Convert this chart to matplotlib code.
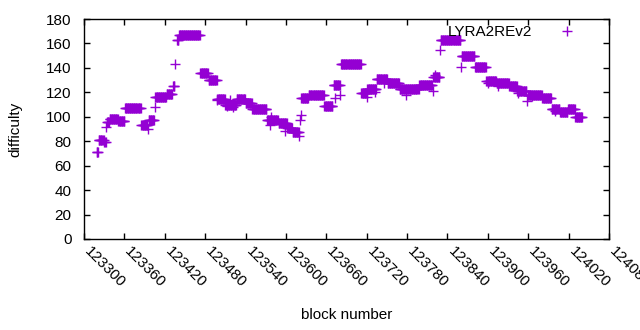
import numpy as np
import matplotlib
matplotlib.use('Agg')
import matplotlib.pyplot as plt
from matplotlib.transforms import ScaledTranslation

plt.rcParams['font.family'] = ['Liberation Sans', 'DejaVu Sans']

# runs of equal difficulty: first block, last block, difficulty
run_start = [123319, 123322, 123330, 123334, 123338, 123351, 123361, 123385, 123396,
             123406, 123423, 123432, 123438, 123441, 123473, 123485, 123498, 123510,
             123527, 123540, 123550, 123572, 123589, 123602, 123610, 123623, 123634,
             123657, 123671, 123682, 123712, 123721, 123735, 123751, 123769, 123798,
             123819, 123830, 123861, 123881, 123898, 123913, 123932, 123944, 123959,
             123981, 123995, 124007, 124019, 124030]
run_end = [123321, 123329, 123332, 123337, 123350, 123360, 123384, 123394, 123404,
           123422, 123431, 123434, 123440, 123472, 123484, 123497, 123509, 123526,
           123539, 123549, 123571, 123588, 123601, 123609, 123619, 123633, 123656,
           123669, 123680, 123711, 123720, 123734, 123750, 123768, 123797, 123817,
           123828, 123859, 123880, 123897, 123912, 123931, 123943, 123957, 123980,
           123994, 124006, 124018, 124029, 124040]
run_value = [71.5, 81, 79, 96, 98.5, 96.5, 107, 93, 97.5,
             116, 118.5, 125, 162.5, 167, 135.5, 130, 114.5, 110,
             114.5, 111, 106, 97.5, 95, 91, 87.5, 115.5, 118,
             109, 126, 143, 119.5, 123, 131, 127.5, 122.5, 126,
             132.5, 163, 150, 140.5, 129.5, 128, 125.5, 121.5, 118,
             115, 106, 103.5, 106, 99.5]

# single outlying blocks
single_block = [123333, 123395, 123405, 123435, 123497, 123512, 123517, 123521, 123576,
                123578, 123598, 123620, 123621, 123622, 123673, 123681, 123720, 123733,
                123746, 123779, 123818, 123821, 123829, 123860, 123900, 123915, 123945,
                123958, 123965, 124000]
single_value = [91.4, 90.3, 108, 143, 113.9, 108.8, 113.7, 108, 93.3,
                99.5, 88.6, 84.5, 97.5, 101.5, 115, 118, 116.5, 120.6,
                127.4, 117.8, 121, 134, 155, 141, 127.4, 125.5, 119.8,
                113, 117, 105]

blocks = np.concatenate([np.arange(s, e + 1) for s, e in zip(run_start, run_end)] + [single_block])
values = np.concatenate([np.full(e - s + 1, v) for s, e, v in zip(run_start, run_end, run_value)] + [single_value])

fig = plt.figure(figsize=(6.4, 3.3), dpi=100)
ax = fig.add_axes([0.13125, 0.2758, 0.8203, 0.6666])
ax.plot(blocks, values, '+', color='#9400D3', markersize=6.5, markeredgewidth=1.0,
        label='LYRA2REv2', linestyle='none')

ax.set_xlim(123300, 124080)
ax.set_ylim(0, 180)
ax.set_xticks(np.arange(123300, 124081, 60))
ax.set_yticks(np.arange(0, 181, 20))
ax.tick_params(direction='in', length=4, width=1, top=True, right=True, labelsize=11)
ax.tick_params(axis='x', pad=7)
ax.tick_params(axis='y', pad=9)
shift = ScaledTranslation(2 / 72, 0, fig.dpi_scale_trans)
for lab in ax.get_xticklabels():
    lab.set_rotation(-45)
    lab.set_ha('left')
    lab.set_va('center')
    lab.set_rotation_mode('anchor')
    lab.set_transform(lab.get_transform() + shift)
for sp in ax.spines.values():
    sp.set_linewidth(1)
ax.set_xlabel('block number', fontsize=11, va='center')
ax.set_ylabel('difficulty', fontsize=11, va='center')
ax.xaxis.set_label_coords(0.5, -0.345)
ax.yaxis.set_label_coords(-0.13, 0.5)
ax.legend(loc='upper right', bbox_to_anchor=(0.96, 1.0), frameon=False, markerfirst=False,
          fontsize=11, handlelength=2, borderaxespad=0, handletextpad=1.25)

fig.savefig('out.png', dpi=100)
